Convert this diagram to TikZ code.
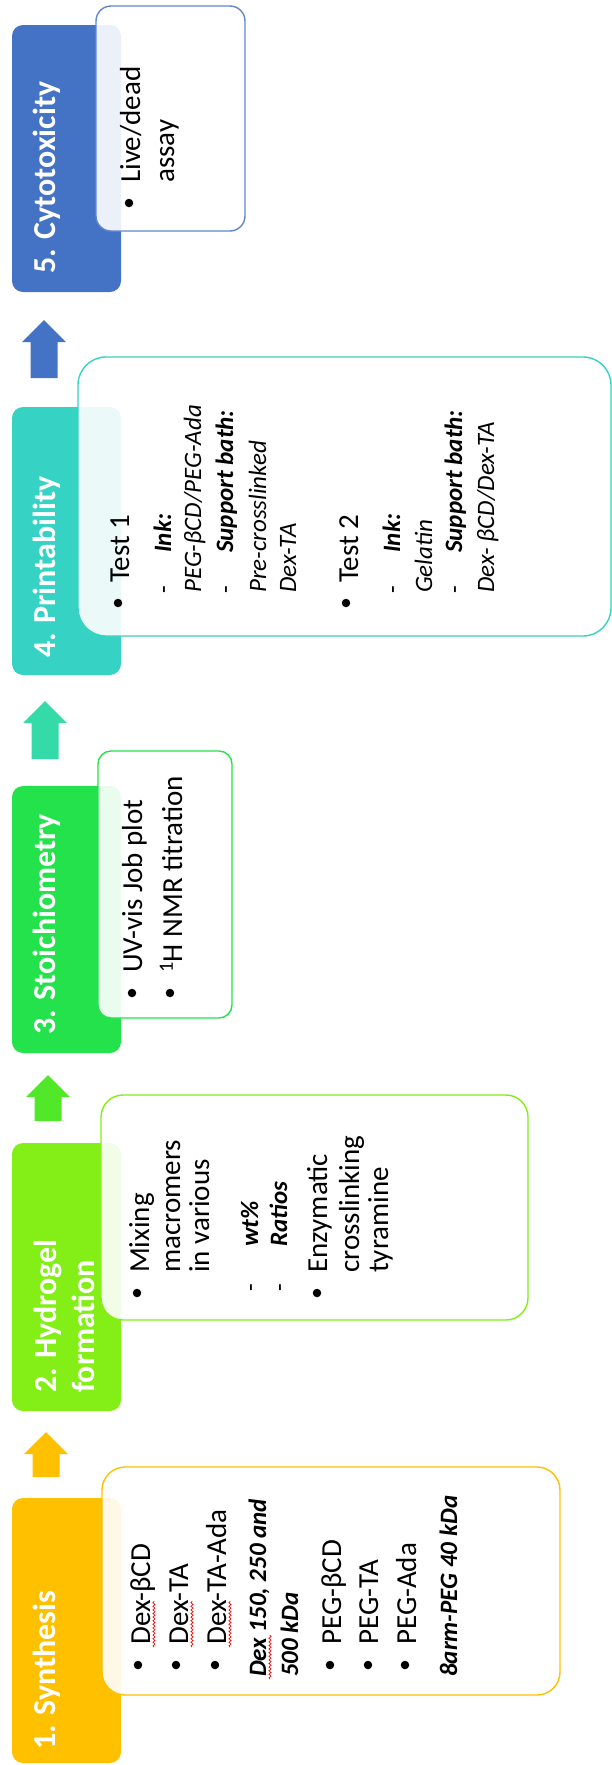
\documentclass[tikz,border=0pt]{standalone}
\usepackage{fontspec}
\setmainfont{Carlito}
\usetikzlibrary{decorations.pathmorphing}
\definecolor{cOrange}{HTML}{FFC000}
\definecolor{cLime}{HTML}{84EE17}
\definecolor{cGreen}{HTML}{24E24B}
\definecolor{cTeal}{HTML}{36D3C4}
\definecolor{cBlue}{HTML}{4472C4}
\definecolor{cArrGreen}{HTML}{50E828}
\definecolor{cArrTeal}{HTML}{34DAA8}
\newcommand{\blkarrow}[4]{% colour, x, y, half length
  \fill[#1, shift={(#2,#3)}] (0,-#4) -- (22,-#4+22) -- (13.5,-#4+22) -- (13.5,#4)
    -- (-13.5,#4) -- (-13.5,-#4+22) -- (-22,-#4+22) -- cycle;}
\tikzset{
  stage/.style={rectangle, rounded corners=11pt, minimum width=109pt, inner sep=0pt, draw=none},
  panel/.style={rectangle, line width=1.4pt, fill=white, fill opacity=0.9, text opacity=1, inner sep=0pt},
  ttl/.style={rotate=90, anchor=base west, inner sep=0pt, text=white, font=\bfseries\fontsize{32}{39}\selectfont},
  txt/.style={rotate=90, anchor=base west, inner sep=0pt, font=\fontsize{29}{35}\selectfont},
  itx/.style={rotate=90, anchor=base west, inner sep=0pt, font=\itshape\fontsize{25}{30}\selectfont},
  btx/.style={rotate=90, anchor=base west, inner sep=0pt, font=\bfseries\itshape\fontsize{25}{30}\selectfont},
  dsh/.style={rotate=90, anchor=base west, inner sep=0pt, font=\fontsize{25}{30}\selectfont},
  bulletdot/.style={circle, fill=black, inner sep=0pt, minimum size=8.5pt},
  wavy/.style={draw=red, line width=0.7pt, decorate, decoration={snake, amplitude=1.1pt, segment length=3.6pt}},
}
\begin{document}
\begin{tikzpicture}[x=1pt, y=-1pt]
\useasboundingbox (0,0) rectangle (612,1765);
% stage boxes
\node[stage, fill=cBlue,   minimum height=267pt] (s5) at (66.5,158.5) {};
\node[stage, fill=cTeal,   minimum height=268pt] (s4) at (66.5,541) {};
\node[stage, fill=cGreen,  minimum height=267pt] (s3) at (66.5,919.5) {};
\node[stage, fill=cLime,   minimum height=268pt] (s2) at (66.5,1277) {};
\node[stage, fill=cOrange, minimum height=265pt] (s1) at (66.5,1630.5) {};
% block arrows
\blkarrow{cBlue}{44}{349}{29}
\blkarrow{cArrTeal}{45}{730}{29}
\blkarrow{cArrGreen}{48}{1098}{23}
\blkarrow{cOrange}{46}{1454.5}{22.5}
% titles
\node[ttl] (t5) at (55,274) {5. Cytotoxicity};
\node[ttl] (t4) at (55,658) {4. Printability};
\node[ttl] (t3) at (55,1035) {3. Stoichiometry};
\node[ttl] (t2a) at (56,1393) {2. Hydrogel};
\node[ttl] (t2b) at (94,1393) {formation};
\node[ttl] (t1) at (55,1750) {1. Synthesis};
% panels
\node[panel, draw=cBlue!85, rounded corners=15pt, minimum width=149pt, minimum height=225pt] (c5) at (170.5,118.5) {};
\node[panel, draw=cTeal, rounded corners=28pt, minimum width=533pt, minimum height=279pt] (c4) at (344.5,496.5) {};
\node[panel, draw=cGreen, rounded corners=13pt, minimum width=134pt, minimum height=267pt] (c3) at (165,884.5) {};
\node[panel, draw=cLime, rounded corners=22pt, minimum width=427pt, minimum height=225pt] (c2) at (314.5,1207.5) {};
\node[panel, draw=cOrange, rounded corners=23pt, minimum width=458pt, minimum height=228pt] (c1) at (331,1581) {};
% panel 5 text
\node[bulletdot] (p5d1) at (129,203) {};
\node[txt] (p5l1) at (140,183) {Live/dead};
\node[txt] (p5l2) at (174,183) {assay};
% panel 4 text
\node[bulletdot] (p4d1) at (118,603) {};
\node[txt] (p4l1) at (129,583) {Test 1};
\node[dsh] (p4h1) at (171,594) {-};
\node[btx] (p4l2) at (171,553) {Ink:};
\node[itx] (p4l3) at (201,593) {PEG-βCD/PEG-Ada};
\node[dsh] (p4h2) at (233,594) {-};
\node[btx] (p4l4) at (233,553) {Support bath:};
\node[itx] (p4l5) at (266,593) {Pre-crosslinked};
\node[itx] (p4l6) at (296,593) {Dex-TA};
\node[bulletdot] (p4d2) at (346,603) {};
\node[txt] (p4l7) at (358,583) {Test 2};
\node[dsh] (p4h3) at (400,594) {-};
\node[btx] (p4l8) at (400,553) {Ink:};
\node[itx] (p4l9) at (432,593) {Gelatin};
\node[dsh] (p4h4) at (462,594) {-};
\node[btx] (p4l10) at (462,553) {Support bath:};
\node[itx] (p4l11) at (494,593) {Dex- βCD/Dex-TA};
% panel 3 text
\node[bulletdot] (p3d1) at (132,993) {};
\node[txt] (p3l1) at (142,973) {UV-vis Job plot};
\node[bulletdot] (p3d2) at (170,993) {};
\node[txt] (p3l2) at (182,973) {\textsuperscript{1}H NMR titration};
% panel 2 text
\node[bulletdot] (p2d1) at (137,1293) {};
\node[txt] (p2l1) at (149,1273) {Mixing};
\node[txt] (p2l2) at (180,1273) {macromers};
\node[txt] (p2l3) at (209,1273) {in various};
\node[dsh] (p2h1) at (258,1292) {-};
\node[btx] (p2l4) at (258,1247) {wt\%};
\node[dsh] (p2h2) at (287,1292) {-};
\node[btx] (p2l5) at (287,1247) {Ratios};
\node[bulletdot] (p2d2) at (317,1293) {};
\node[txt] (p2l6) at (327,1273) {Enzymatic};
\node[txt] (p2l7) at (359,1273) {crosslinking};
\node[txt] (p2l8) at (388,1273) {tyramine};
% panel 1 text
\node[bulletdot] (p1d1) at (138,1665) {};
\node[txt] (p1l1) at (150,1645) {Dex-βCD};
\node[bulletdot] (p1d2) at (176,1665) {};
\node[txt] (p1l2) at (188,1645) {Dex-TA};
\node[bulletdot] (p1d3) at (215,1665) {};
\node[txt] (p1l3) at (226,1645) {Dex-TA-Ada};
\node[btx] (p1l4) at (266,1677) {Dex 150, 250 and};
\node[btx] (p1l5) at (298,1677) {500 kDa};
\node[bulletdot] (p1d4) at (330,1665) {};
\node[txt] (p1l6) at (341,1645) {PEG-βCD};
\node[bulletdot] (p1d5) at (368,1665) {};
\node[txt] (p1l7) at (378,1645) {PEG-TA};
\node[bulletdot] (p1d6) at (405,1665) {};
\node[txt] (p1l8) at (416,1645) {PEG-Ada};
\node[btx] (p1l9) at (457,1677) {8arm-PEG 40 kDa};
% spell-check marks
\draw[wavy] (154,1647) -- (154,1601);
\draw[wavy] (192,1647) -- (192,1601);
\draw[wavy] (230,1647) -- (230,1601);
\draw[wavy] (270,1679) -- (270,1635);
\end{tikzpicture}
\end{document}
